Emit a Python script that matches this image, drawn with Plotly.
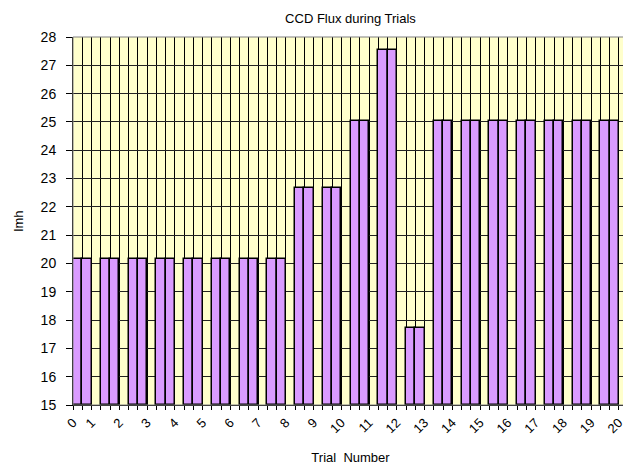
import plotly.graph_objects as go

TITLE = "CCD Flux during Trials"
TRIALS = list(range(1, 21))
FLUX = [20.17, 20.17, 20.17, 20.17, 20.17, 20.17, 20.17, 20.17,
        22.65, 22.65, 25.05, 27.53, 17.73,
        25.05, 25.05, 25.05, 25.05, 25.05, 25.05, 25.05]
X_LABELS = [str(i) for i in range(0, 21)]
SLOTS_PER_TRIAL = 3  # category slots per trial (two bar slots + gap)
Y_MIN, Y_MAX = 15, 28

FONT = "Liberation Sans, Arial, sans-serif"
BAR_COLOR = "#DA9BFF"
BG = "#FFFFCC"

# page body has an 8px margin; size the figure to fill the rest of the window
W, H = 631 - 8, 466 - 8
L, R, T, B = 65, 3, 29, 61

x_pos = [SLOTS_PER_TRIAL * (t - 1) for t in TRIALS]
n_slots = SLOTS_PER_TRIAL * len(TRIALS)
tickvals = [0] + [SLOTS_PER_TRIAL * t - 1 for t in TRIALS]
heights = [v - Y_MIN for v in FLUX]

fig = go.Figure()
for off in (0, 1):
    fig.add_trace(go.Bar(
        x=x_pos, y=heights, base=Y_MIN, width=1, offset=off,
        marker=dict(color=BAR_COLOR, line=dict(color="black", width=1.5)),
        showlegend=False, customdata=FLUX, hovertemplate="%{customdata}<extra></extra>",
    ))

fig.update_layout(
    width=W, height=H,
    paper_bgcolor="white", plot_bgcolor=BG,
    margin=dict(l=L, r=R, t=T, b=B),
    barmode="overlay", bargap=0,
    font=dict(family=FONT, size=13, color="black"),
    title=dict(text=TITLE, x=(L + (W - R)) / 2 / W, xanchor="center",
               y=1 - 10 / H, yanchor="middle", font=dict(size=13)),
)
fig.update_xaxes(
    range=[0, n_slots], tickmode="array", tickvals=tickvals, ticktext=X_LABELS,
    tickangle=-45, ticks="outside", ticklen=4, tickcolor="black", tickwidth=1,
    showgrid=True, gridcolor="black", gridwidth=1,
    minor=dict(tickmode="linear", tick0=0, dtick=1, ticks="outside", ticklen=4,
               tickcolor="black", tickwidth=1, showgrid=True,
               gridcolor="black", gridwidth=1),
    showline=True, linecolor="black", linewidth=1, zeroline=False,
    title=dict(text="Trial  Number", standoff=17, font=dict(size=13)),
    tickfont=dict(size=13),
)
fig.update_yaxes(
    range=[Y_MIN, Y_MAX], dtick=1, tick0=Y_MIN, ticks="outside", ticklen=6,
    tickcolor="black", showgrid=True, gridcolor="#222222", gridwidth=1,
    showline=True, linecolor="black", linewidth=1, zeroline=False,
    ticklabelstandoff=7,
    title=dict(text="lmh", standoff=14, font=dict(size=13)),
    tickfont=dict(size=14),
)
fig.add_shape(type="rect", xref="x domain", yref="y domain", x0=0, x1=1, y0=0, y1=1,
              line=dict(color="#808080", width=1), layer="above")

fig.write_html("out.html")
